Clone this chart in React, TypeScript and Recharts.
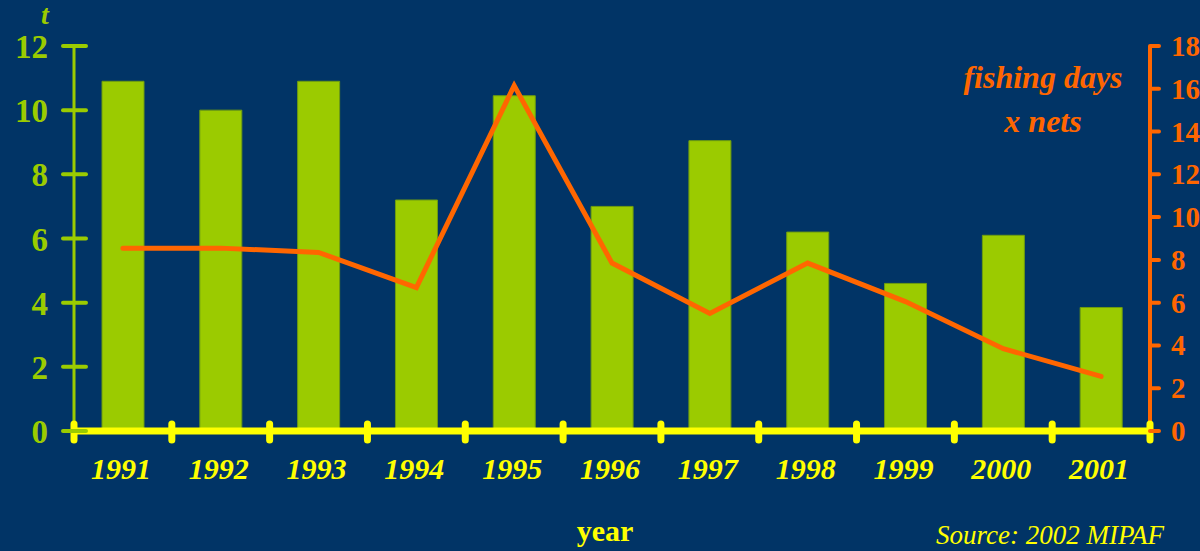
import React from 'react';
import { ComposedChart, Bar, Line, XAxis, YAxis } from 'recharts';

// catch per year (t) and fishing effort (fishing days x nets)
const years = ['1991', '1992', '1993', '1994', '1995', '1996', '1997', '1998', '1999', '2000', '2001'];
const catchTonnes = [10.9, 10.0, 10.9, 7.2, 10.45, 7.0, 9.05, 6.2, 4.6, 6.1, 3.85];
const effort = [8.55, 8.55, 8.35, 6.7, 16.15, 7.85, 5.5, 7.85, 6.05, 3.85, 2.55];
const leftTicks = [0, 2, 4, 6, 8, 10, 12];
const rightTicks = [0, 2, 4, 6, 8, 10, 12, 14, 16, 18];

const BG = '#013466';
const GREEN = '#9BCB00';
const ORANGE = '#FF6600';
const YELLOW = '#FFFF00';
const FONT = "'Liberation Serif', 'Times New Roman', serif";

const PLOT_LEFT = 74;
const PLOT_RIGHT = 1150;
const BAND = (PLOT_RIGHT - PLOT_LEFT) / years.length;

const data = years.map((year, i) => ({
  year,
  catch: catchTonnes[i],
  effort: effort[i]
}));

const XTick = (props: any) => {
  const { x, y, payload, index } = props;
  const left = x - BAND / 2;
  return (
    <g>
      <line x1={left} x2={left} y1={y - 7} y2={y + 9} stroke={YELLOW} strokeWidth={7} strokeLinecap="round" />
      {index === years.length - 1 && (
        <line x1={x + BAND / 2} x2={x + BAND / 2} y1={y - 7} y2={y + 9} stroke={YELLOW} strokeWidth={7} strokeLinecap="round" />
      )}
      <text
        x={x - 2}
        y={y + 48}
        textAnchor="middle"
        fill={YELLOW}
        style={{ fontFamily: FONT, fontSize: 30, fontWeight: 'bold', fontStyle: 'italic' }}
      >
        {payload.value}
      </text>
    </g>
  );
};

const LeftTick = (props: any) => {
  const { x, y, payload } = props;
  return (
    <g>
      <line x1={x - 11} x2={x + 12} y1={y} y2={y} stroke={GREEN} strokeWidth={4} strokeLinecap="round" />
      <text x={x - 26} y={y + 12} textAnchor="end" fill={GREEN} style={{ fontFamily: FONT, fontSize: 33, fontWeight: 'bold' }}>
        {payload.value}
      </text>
    </g>
  );
};

const RightTick = (props: any) => {
  const { x, y, payload } = props;
  return (
    <g>
      <line x1={x} x2={x + 9} y1={y} y2={y} stroke={ORANGE} strokeWidth={4} strokeLinecap="round" />
      <text x={x + 21} y={y + 10} textAnchor="start" fill={ORANGE} style={{ fontFamily: FONT, fontSize: 29, fontWeight: 'bold' }}>
        {payload.value}
      </text>
    </g>
  );
};

const label = (style: React.CSSProperties): React.CSSProperties => ({
  position: 'absolute',
  fontFamily: FONT,
  fontWeight: 'bold',
  whiteSpace: 'nowrap',
  lineHeight: 1,
  ...style
});

export default function App() {
  return (
    <div style={{ position: 'relative', width: 1200, height: 551, background: BG, overflow: 'hidden' }}>
      <style>{'body{margin:0}'}</style>
      <ComposedChart
        width={1200}
        height={551}
        data={data}
        margin={{ top: 46, right: 0, left: 14, bottom: 60 }}
      >
        <XAxis
          dataKey="year"
          height={60}
          tickSize={0}
          tickMargin={0}
          tickLine={false}
          axisLine={{ stroke: YELLOW, strokeWidth: 7 }}
          tick={<XTick />}
          interval={0}
        />
        <YAxis
          yAxisId="left"
          width={60}
          domain={[0, 12]}
          ticks={leftTicks}
          tickSize={0}
          tickMargin={0}
          tickLine={false}
          axisLine={{ stroke: GREEN, strokeWidth: 3 }}
          tick={<LeftTick />}
          interval={0}
        />
        <YAxis
          yAxisId="right"
          orientation="right"
          width={50}
          domain={[0, 18]}
          ticks={rightTicks}
          tickSize={0}
          tickMargin={0}
          tickLine={false}
          axisLine={{ stroke: ORANGE, strokeWidth: 4 }}
          tick={<RightTick />}
          interval={0}
        />
        <Bar
          yAxisId="left"
          dataKey="catch"
          barSize={42}
          fill={GREEN}
          stroke="#6E9C10"
          strokeWidth={1}
          isAnimationActive={false}
        />
        <Line
          yAxisId="right"
          dataKey="effort"
          type="linear"
          stroke={ORANGE}
          strokeWidth={5}
          strokeLinecap="round"
          dot={false}
          activeDot={false}
          isAnimationActive={false}
        />
      </ComposedChart>
      <div style={label({ left: 41, top: 1, fontSize: 28, fontStyle: 'italic', color: GREEN })}>t</div>
      <div style={label({ left: 950, top: 61, width: 186, textAlign: 'center', fontSize: 32, fontStyle: 'italic', color: ORANGE })}>
        fishing days
      </div>
      <div style={label({ left: 950, top: 105, width: 186, textAlign: 'center', fontSize: 32, fontStyle: 'italic', color: ORANGE })}>
        x nets
      </div>
      <div style={label({ left: 560, top: 516, width: 90, textAlign: 'center', fontSize: 30, color: YELLOW })}>year</div>
      <div style={label({ left: 936, top: 522, fontSize: 27, fontWeight: 'normal', fontStyle: 'italic', color: YELLOW })}>
        Source: 2002 MIPAF
      </div>
    </div>
  );
}
